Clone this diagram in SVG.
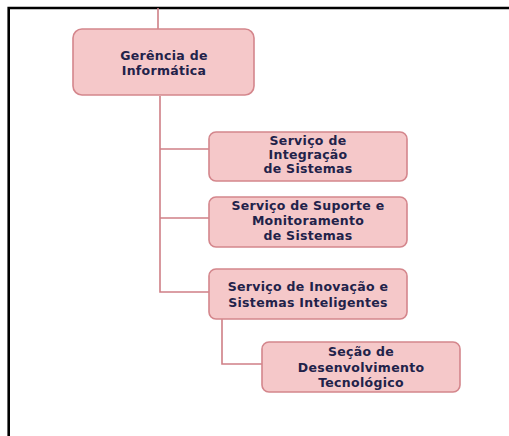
<svg xmlns="http://www.w3.org/2000/svg" width="509" height="436" viewBox="0 0 509 436">
<style>
.box{fill:#f5c8c9;stroke:#d4868c;stroke-width:1.6}
.t{font-family:"DejaVu Sans",Verdana,sans-serif;font-weight:bold;font-size:12.5px;letter-spacing:0.3px;fill:#22224a;text-anchor:middle}
.c{fill:none;stroke:#cf7f86;stroke-width:1.6}
</style>
<rect x="0" y="0" width="509" height="436" fill="#ffffff"/>
<path d="M8.7 436 V8 H509" fill="none" stroke="#000" stroke-width="2.6"/>
<g id="connectors">
<path class="c" d="M158 8 V29"/>
<path class="c" d="M160 96 V292 H209"/>
<path class="c" d="M160 149 H209"/>
<path class="c" d="M160 218 H209"/>
<path class="c" d="M222 319 V364 H262"/>
</g>
<g id="gerencia">
<rect class="box" x="73" y="29" width="181" height="66" rx="9"/>
<text class="t" x="164" y="60">Gerência de</text>
<text class="t" x="164" y="75">Informática</text>
</g>
<g id="integracao">
<rect class="box" x="209" y="132" width="198" height="49" rx="7"/>
<text class="t" x="308" y="145">Serviço de</text>
<text class="t" x="308" y="159">Integração</text>
<text class="t" x="308" y="173">de Sistemas</text>
</g>
<g id="suporte">
<rect class="box" x="209" y="197" width="198" height="50" rx="7"/>
<text class="t" x="308" y="210">Serviço de Suporte e</text>
<text class="t" x="308" y="225">Monitoramento</text>
<text class="t" x="308" y="240">de Sistemas</text>
</g>
<g id="inovacao">
<rect class="box" x="209" y="269" width="198" height="50" rx="7"/>
<text class="t" x="308" y="291">Serviço de Inovação e</text>
<text class="t" x="308" y="307">Sistemas Inteligentes</text>
</g>
<g id="secao">
<rect class="box" x="262" y="342" width="198" height="50" rx="7"/>
<text class="t" x="361" y="356">Seção de</text>
<text class="t" x="361" y="372">Desenvolvimento</text>
<text class="t" x="361" y="387">Tecnológico</text>
</g>
</svg>
